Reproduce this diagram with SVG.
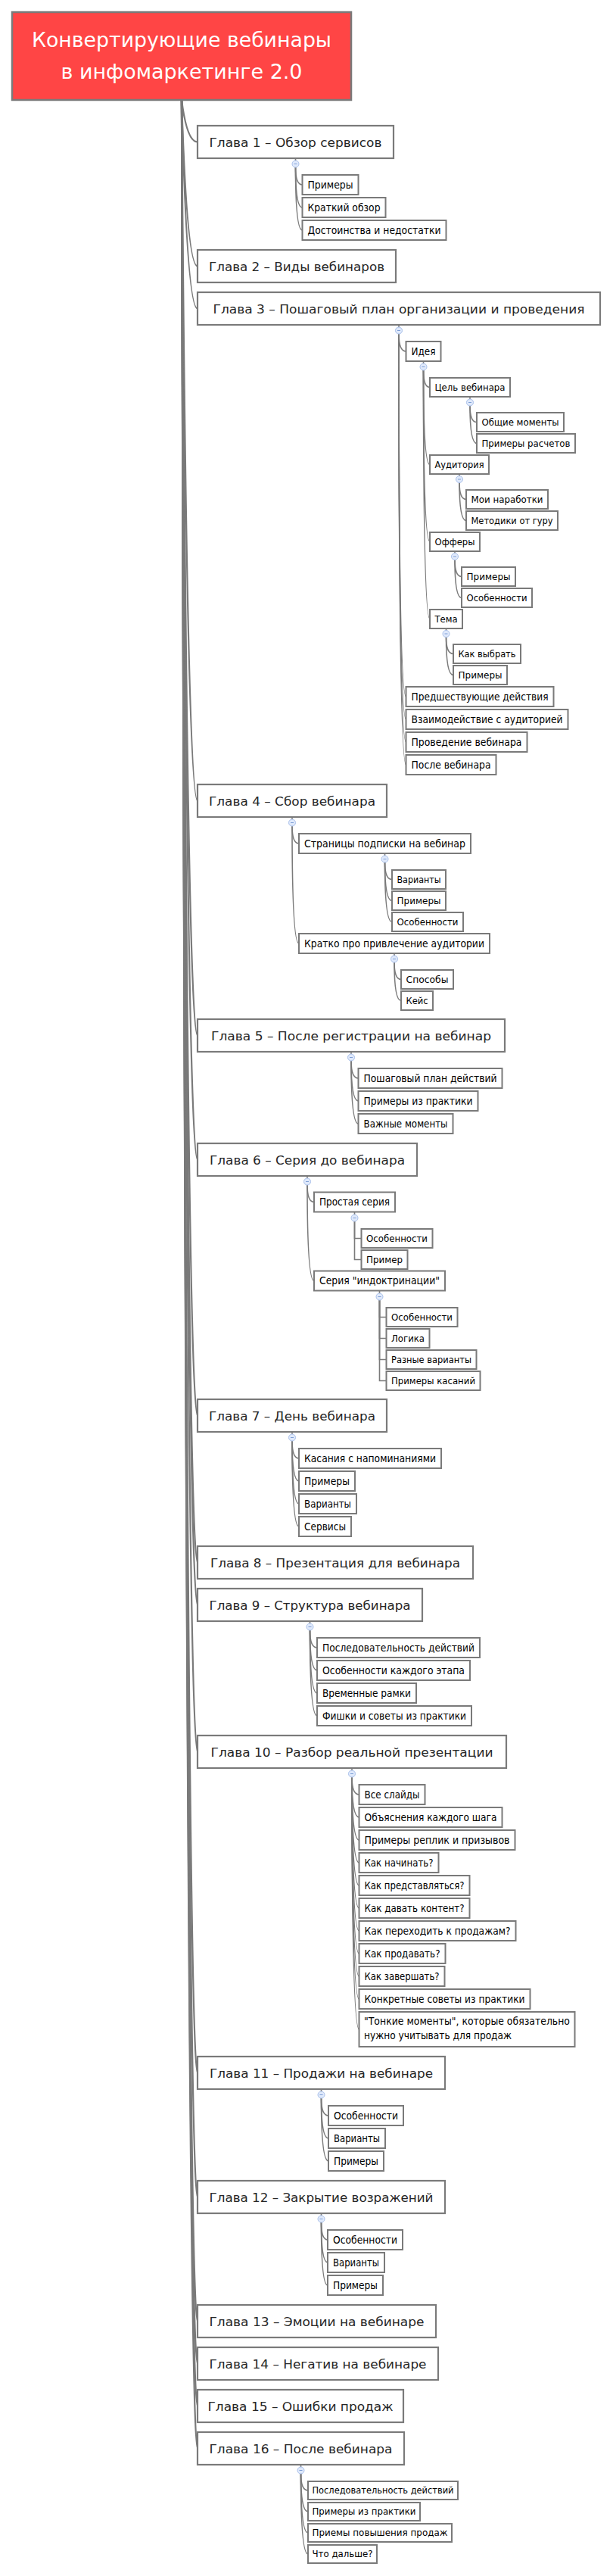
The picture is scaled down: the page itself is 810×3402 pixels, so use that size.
<svg xmlns="http://www.w3.org/2000/svg" width="810" height="3402" viewBox="0 0 810 3402">
<style>
text{font-family:"DejaVu Sans","Liberation Sans",sans-serif}
.root rect{fill:#ff4545;stroke:#7a7a7a;stroke-width:2.5}
.root text{fill:#fff;font-size:26px;text-anchor:middle}
.ch rect{fill:#fff;stroke:#7a7a7a;stroke-width:2.2}
.ch text{fill:#262626;font-size:16.5px;text-anchor:middle}
.c rect{fill:#fff;stroke:#7a7a7a;stroke-width:2}
.c text{fill:#000;font-size:13.3px}
.c.s text{font-size:12.5px}
#connectors path{fill:none;stroke:#7a7a7a;stroke-width:1.6}
#connectors path.t{stroke-width:2.2}
.tg circle{fill:#dfe9fb;stroke:#a9c0ea;stroke-width:1}
.tg line{stroke:#7f9fd6;stroke-width:1}
</style>
<rect width="810" height="3402" fill="#fff"/>
<g id="connectors">
<path class="t" d="M240,132 Q247,187.5 261,187.5"/>
<path class="t" d="M240,132 Q247,351.5 261,351.5"/>
<path class="t" d="M240,132 Q247,407.5 261,407.5"/>
<path class="t" d="M240,132 Q247,1057.5 261,1057.5"/>
<path class="t" d="M240,132 Q247,1367.5 261,1367.5"/>
<path class="t" d="M240,132 Q247,1531.5 261,1531.5"/>
<path class="t" d="M240,132 Q247,1869.5 261,1869.5"/>
<path class="t" d="M240,132 Q247,2063.5 261,2063.5"/>
<path class="t" d="M240,132 Q247,2119.5 261,2119.5"/>
<path class="t" d="M240,132 Q247,2313.5 261,2313.5"/>
<path class="t" d="M240,132 Q247,2737.5 261,2737.5"/>
<path class="t" d="M240,132 Q247,2901.5 261,2901.5"/>
<path class="t" d="M240,132 Q247,3065.5 261,3065.5"/>
<path class="t" d="M240,132 Q247,3121.5 261,3121.5"/>
<path class="t" d="M240,132 Q247,3177.5 261,3177.5"/>
<path class="t" d="M240,132 Q247,3233.5 261,3233.5"/>
<path d="M390.5,209 V212"/>
<path d="M390.5,221 Q390.5,244 399.5,244"/>
<path d="M390.5,221 Q390.5,274 399.5,274"/>
<path d="M390.5,221 Q390.5,304 399.5,304"/>
<path d="M527,429 V432"/>
<path d="M527,441 Q527,464 536.5,464"/>
<path d="M527,441 Q527,920 536.5,920"/>
<path d="M527,441 Q527,950 536.5,950"/>
<path d="M527,441 Q527,980 536.5,980"/>
<path d="M527,441 Q527,1010 536.5,1010"/>
<path d="M559.5,477 V480"/>
<path d="M559.5,489 Q559.5,511.5 568,511.5"/>
<path d="M559.5,489 Q559.5,613.5 568,613.5"/>
<path d="M559.5,489 Q559.5,715.5 568,715.5"/>
<path d="M559.5,489 Q559.5,817.5 568,817.5"/>
<path d="M621,524 V527"/>
<path d="M621,536 Q621,557.5 630,557.5"/>
<path d="M621,536 Q621,585.5 630,585.5"/>
<path d="M607,626 V629"/>
<path d="M607,637.5 Q607,659.5 616,659.5"/>
<path d="M607,637.5 Q607,687.5 616,687.5"/>
<path d="M601,728 V731"/>
<path d="M601,739.5 Q601,761.5 610,761.5"/>
<path d="M601,739.5 Q601,789.5 610,789.5"/>
<path d="M589.5,830 V833"/>
<path d="M589.5,841.5 Q589.5,863.5 599,863.5"/>
<path d="M589.5,841.5 Q589.5,891.5 599,891.5"/>
<path d="M386,1079 V1082"/>
<path d="M386,1091 Q386,1114 395,1114"/>
<path d="M386,1091 Q386,1246 395,1246"/>
<path d="M508.5,1127 V1130"/>
<path d="M508.5,1139 Q508.5,1161.5 518,1161.5"/>
<path d="M508.5,1139 Q508.5,1189.5 518,1189.5"/>
<path d="M508.5,1139 Q508.5,1217.5 518,1217.5"/>
<path d="M521,1259 V1262"/>
<path d="M521,1271 Q521,1293.5 530,1293.5"/>
<path d="M521,1271 Q521,1321.5 530,1321.5"/>
<path d="M464,1389 V1392"/>
<path d="M464,1401 Q464,1424 473.5,1424"/>
<path d="M464,1401 Q464,1454 473.5,1454"/>
<path d="M464,1401 Q464,1484 473.5,1484"/>
<path d="M406,1553 V1556"/>
<path d="M406,1565 Q406,1587.5 415,1587.5"/>
<path d="M406,1565 Q406,1691.5 415,1691.5"/>
<path d="M468.5,1600.5 V1604"/>
<path d="M468.5,1613 V1635.5 H477.5"/>
<path d="M468.5,1613 V1663.5 H477.5"/>
<path d="M501.5,1704.5 V1708"/>
<path d="M501.5,1717 V1739.5 H510.5"/>
<path d="M501.5,1717 V1767.5 H510.5"/>
<path d="M501.5,1717 V1795.5 H510.5"/>
<path d="M501.5,1717 V1823.5 H510.5"/>
<path d="M386,1891 V1894"/>
<path d="M386,1903 Q386,1926 395,1926"/>
<path d="M386,1903 Q386,1956 395,1956"/>
<path d="M386,1903 Q386,1986 395,1986"/>
<path d="M386,1903 Q386,2016 395,2016"/>
<path d="M409.5,2141 V2144"/>
<path d="M409.5,2153 Q409.5,2176 419,2176"/>
<path d="M409.5,2153 Q409.5,2206 419,2206"/>
<path d="M409.5,2153 Q409.5,2236 419,2236"/>
<path d="M409.5,2153 Q409.5,2266 419,2266"/>
<path d="M465,2335 V2338"/>
<path d="M465,2347 Q465,2370 474.5,2370"/>
<path d="M465,2347 Q465,2400 474.5,2400"/>
<path d="M465,2347 Q465,2430 474.5,2430"/>
<path d="M465,2347 Q465,2460 474.5,2460"/>
<path d="M465,2347 Q465,2490 474.5,2490"/>
<path d="M465,2347 Q465,2520 474.5,2520"/>
<path d="M465,2347 Q465,2550 474.5,2550"/>
<path d="M465,2347 Q465,2580 474.5,2580"/>
<path d="M465,2347 Q465,2610 474.5,2610"/>
<path d="M465,2347 Q465,2640 474.5,2640"/>
<path d="M465,2347 Q465,2680 474.5,2680"/>
<path d="M424.5,2759 V2762"/>
<path d="M424.5,2771 Q424.5,2794 434,2794"/>
<path d="M424.5,2771 Q424.5,2824 434,2824"/>
<path d="M424.5,2771 Q424.5,2854 434,2854"/>
<path d="M424.5,2923 V2926"/>
<path d="M424.5,2935 Q424.5,2958 433,2958"/>
<path d="M424.5,2935 Q424.5,2988 433,2988"/>
<path d="M424.5,2935 Q424.5,3018 433,3018"/>
<path d="M397.5,3255 V3258"/>
<path d="M397.5,3267 Q397.5,3289 407,3289"/>
<path d="M397.5,3267 Q397.5,3317 407,3317"/>
<path d="M397.5,3267 Q397.5,3345 407,3345"/>
<path d="M397.5,3267 Q397.5,3373 407,3373"/>
</g>
<g id="toggles" class="tg">
<circle cx="390.5" cy="216.5" r="4.5"/><line x1="388.5" y1="216.5" x2="392.5" y2="216.5"/>
<circle cx="527" cy="436.5" r="4.5"/><line x1="525" y1="436.5" x2="529" y2="436.5"/>
<circle cx="559.5" cy="484.5" r="4.5"/><line x1="557.5" y1="484.5" x2="561.5" y2="484.5"/>
<circle cx="621" cy="531.5" r="4.5"/><line x1="619" y1="531.5" x2="623" y2="531.5"/>
<circle cx="607" cy="633" r="4.5"/><line x1="605" y1="633" x2="609" y2="633"/>
<circle cx="601" cy="735" r="4.5"/><line x1="599" y1="735" x2="603" y2="735"/>
<circle cx="589.5" cy="837" r="4.5"/><line x1="587.5" y1="837" x2="591.5" y2="837"/>
<circle cx="386" cy="1086.5" r="4.5"/><line x1="384" y1="1086.5" x2="388" y2="1086.5"/>
<circle cx="508.5" cy="1134.5" r="4.5"/><line x1="506.5" y1="1134.5" x2="510.5" y2="1134.5"/>
<circle cx="521" cy="1266.5" r="4.5"/><line x1="519" y1="1266.5" x2="523" y2="1266.5"/>
<circle cx="464" cy="1396.5" r="4.5"/><line x1="462" y1="1396.5" x2="466" y2="1396.5"/>
<circle cx="406" cy="1560.5" r="4.5"/><line x1="404" y1="1560.5" x2="408" y2="1560.5"/>
<circle cx="468.5" cy="1608.5" r="4.5"/><line x1="466.5" y1="1608.5" x2="470.5" y2="1608.5"/>
<circle cx="501.5" cy="1712.5" r="4.5"/><line x1="499.5" y1="1712.5" x2="503.5" y2="1712.5"/>
<circle cx="386" cy="1898.5" r="4.5"/><line x1="384" y1="1898.5" x2="388" y2="1898.5"/>
<circle cx="409.5" cy="2148.5" r="4.5"/><line x1="407.5" y1="2148.5" x2="411.5" y2="2148.5"/>
<circle cx="465" cy="2342.5" r="4.5"/><line x1="463" y1="2342.5" x2="467" y2="2342.5"/>
<circle cx="424.5" cy="2766.5" r="4.5"/><line x1="422.5" y1="2766.5" x2="426.5" y2="2766.5"/>
<circle cx="424.5" cy="2930.5" r="4.5"/><line x1="422.5" y1="2930.5" x2="426.5" y2="2930.5"/>
<circle cx="397.5" cy="3262.5" r="4.5"/><line x1="395.5" y1="3262.5" x2="399.5" y2="3262.5"/>
</g>
<g id="root" class="root">
<rect x="16" y="16" width="448" height="116"/>
<text x="240" y="62" textLength="396" lengthAdjust="spacingAndGlyphs">Конвертирующие вебинары</text>
<text x="240" y="103.5" textLength="319" lengthAdjust="spacingAndGlyphs">в инфомаркетинге 2.0</text>
</g>
<g id="ch1" class="ch"><rect x="261" y="166" width="259" height="43"/><text x="390.5" y="193.5" textLength="228" lengthAdjust="spacingAndGlyphs">Глава 1 – Обзор сервисов</text></g>
<g id="ch1-1" class="c"><rect x="399.5" y="231" width="74" height="26"/><text x="406.5" y="248.5" textLength="60" lengthAdjust="spacingAndGlyphs">Примеры</text></g>
<g id="ch1-2" class="c"><rect x="399.5" y="261" width="110" height="26"/><text x="406.5" y="278.5" textLength="96" lengthAdjust="spacingAndGlyphs">Краткий обзор</text></g>
<g id="ch1-3" class="c"><rect x="399.5" y="291" width="190" height="26"/><text x="406.5" y="308.5" textLength="176" lengthAdjust="spacingAndGlyphs">Достоинства и недостатки</text></g>
<g id="ch2" class="ch"><rect x="261" y="330" width="262" height="43"/><text x="392" y="357.5" textLength="232" lengthAdjust="spacingAndGlyphs">Глава 2 – Виды вебинаров</text></g>
<g id="ch3" class="ch"><rect x="261" y="386" width="532" height="43"/><text x="527" y="413.5" textLength="491" lengthAdjust="spacingAndGlyphs">Глава 3 – Пошаговый план организации и проведения</text></g>
<g id="ch3-1" class="c"><rect x="536.5" y="451" width="46" height="26"/><text x="543.5" y="468.5" textLength="32" lengthAdjust="spacingAndGlyphs">Идея</text></g>
<g id="ch3-1-1" class="c s"><rect x="568" y="499" width="106" height="25"/><text x="574.5" y="515.7" textLength="93" lengthAdjust="spacingAndGlyphs">Цель вебинара</text></g>
<g id="ch3-1-1-1" class="c s"><rect x="630" y="545" width="115" height="25"/><text x="636.5" y="561.7" textLength="102" lengthAdjust="spacingAndGlyphs">Общие моменты</text></g>
<g id="ch3-1-1-2" class="c s"><rect x="630" y="573" width="130" height="25"/><text x="636.5" y="589.7" textLength="117" lengthAdjust="spacingAndGlyphs">Примеры расчетов</text></g>
<g id="ch3-1-2" class="c s"><rect x="568" y="601" width="78" height="25"/><text x="574.5" y="617.7" textLength="65" lengthAdjust="spacingAndGlyphs">Аудитория</text></g>
<g id="ch3-1-2-1" class="c s"><rect x="616" y="647" width="108" height="25"/><text x="622.5" y="663.7" textLength="95" lengthAdjust="spacingAndGlyphs">Мои наработки</text></g>
<g id="ch3-1-2-2" class="c s"><rect x="616" y="675" width="121" height="25"/><text x="622.5" y="691.7" textLength="108" lengthAdjust="spacingAndGlyphs">Методики от гуру</text></g>
<g id="ch3-1-3" class="c s"><rect x="568" y="703" width="66" height="25"/><text x="574.5" y="719.7" textLength="53" lengthAdjust="spacingAndGlyphs">Офферы</text></g>
<g id="ch3-1-3-1" class="c s"><rect x="610" y="749" width="71" height="25"/><text x="616.5" y="765.7" textLength="58" lengthAdjust="spacingAndGlyphs">Примеры</text></g>
<g id="ch3-1-3-2" class="c s"><rect x="610" y="777" width="93" height="25"/><text x="616.5" y="793.7" textLength="80" lengthAdjust="spacingAndGlyphs">Особенности</text></g>
<g id="ch3-1-4" class="c s"><rect x="568" y="805" width="43" height="25"/><text x="574.5" y="821.7" textLength="30" lengthAdjust="spacingAndGlyphs">Тема</text></g>
<g id="ch3-1-4-1" class="c s"><rect x="599" y="851" width="89" height="25"/><text x="605.5" y="867.7" textLength="76" lengthAdjust="spacingAndGlyphs">Как выбрать</text></g>
<g id="ch3-1-4-2" class="c s"><rect x="599" y="879" width="71" height="25"/><text x="605.5" y="895.7" textLength="58" lengthAdjust="spacingAndGlyphs">Примеры</text></g>
<g id="ch3-2" class="c"><rect x="536.5" y="907" width="195" height="26"/><text x="543.5" y="924.5" textLength="181" lengthAdjust="spacingAndGlyphs">Предшествующие действия</text></g>
<g id="ch3-3" class="c"><rect x="536.5" y="937" width="214" height="26"/><text x="543.5" y="954.5" textLength="200" lengthAdjust="spacingAndGlyphs">Взаимодействие с аудиторией</text></g>
<g id="ch3-4" class="c"><rect x="536.5" y="967" width="160" height="26"/><text x="543.5" y="984.5" textLength="146" lengthAdjust="spacingAndGlyphs">Проведение вебинара</text></g>
<g id="ch3-5" class="c"><rect x="536.5" y="997" width="119" height="26"/><text x="543.5" y="1014.5" textLength="105" lengthAdjust="spacingAndGlyphs">После вебинара</text></g>
<g id="ch4" class="ch"><rect x="261" y="1036" width="250" height="43"/><text x="386" y="1063.5" textLength="220" lengthAdjust="spacingAndGlyphs">Глава 4 – Сбор вебинара</text></g>
<g id="ch4-1" class="c"><rect x="395" y="1101" width="227" height="26"/><text x="402" y="1118.5" textLength="213" lengthAdjust="spacingAndGlyphs">Страницы подписки на вебинар</text></g>
<g id="ch4-1-1" class="c s"><rect x="518" y="1149" width="71" height="25"/><text x="524.5" y="1165.7" textLength="58" lengthAdjust="spacingAndGlyphs">Варианты</text></g>
<g id="ch4-1-2" class="c s"><rect x="518" y="1177" width="71" height="25"/><text x="524.5" y="1193.7" textLength="58" lengthAdjust="spacingAndGlyphs">Примеры</text></g>
<g id="ch4-1-3" class="c s"><rect x="518" y="1205" width="94" height="25"/><text x="524.5" y="1221.7" textLength="81" lengthAdjust="spacingAndGlyphs">Особенности</text></g>
<g id="ch4-2" class="c"><rect x="395" y="1233" width="252" height="26"/><text x="402" y="1250.5" textLength="238" lengthAdjust="spacingAndGlyphs">Кратко про привлечение аудитории</text></g>
<g id="ch4-2-1" class="c s"><rect x="530" y="1281" width="69" height="25"/><text x="536.5" y="1297.7" textLength="56" lengthAdjust="spacingAndGlyphs">Способы</text></g>
<g id="ch4-2-2" class="c s"><rect x="530" y="1309" width="42" height="25"/><text x="536.5" y="1325.7" textLength="29" lengthAdjust="spacingAndGlyphs">Кейс</text></g>
<g id="ch5" class="ch"><rect x="261" y="1346" width="406" height="43"/><text x="464" y="1373.5" textLength="370" lengthAdjust="spacingAndGlyphs">Глава 5 – После регистрации на вебинар</text></g>
<g id="ch5-1" class="c"><rect x="473.5" y="1411" width="190" height="26"/><text x="480.5" y="1428.5" textLength="176" lengthAdjust="spacingAndGlyphs">Пошаговый план действий</text></g>
<g id="ch5-2" class="c"><rect x="473.5" y="1441" width="158" height="26"/><text x="480.5" y="1458.5" textLength="144" lengthAdjust="spacingAndGlyphs">Примеры из практики</text></g>
<g id="ch5-3" class="c"><rect x="473.5" y="1471" width="125" height="26"/><text x="480.5" y="1488.5" textLength="111" lengthAdjust="spacingAndGlyphs">Важные моменты</text></g>
<g id="ch6" class="ch"><rect x="261" y="1510" width="290" height="43"/><text x="406" y="1537.5" textLength="258" lengthAdjust="spacingAndGlyphs">Глава 6 – Серия до вебинара</text></g>
<g id="ch6-1" class="c"><rect x="415" y="1574.5" width="107" height="26"/><text x="422" y="1592" textLength="93" lengthAdjust="spacingAndGlyphs">Простая серия</text></g>
<g id="ch6-1-1" class="c s"><rect x="477.5" y="1623" width="94" height="25"/><text x="484" y="1639.7" textLength="81" lengthAdjust="spacingAndGlyphs">Особенности</text></g>
<g id="ch6-1-2" class="c s"><rect x="477.5" y="1651" width="61" height="25"/><text x="484" y="1667.7" textLength="48" lengthAdjust="spacingAndGlyphs">Пример</text></g>
<g id="ch6-2" class="c"><rect x="415" y="1678.5" width="173" height="26"/><text x="422" y="1696" textLength="159" lengthAdjust="spacingAndGlyphs">Серия "индоктринации"</text></g>
<g id="ch6-2-1" class="c s"><rect x="510.5" y="1727" width="94" height="25"/><text x="517" y="1743.7" textLength="81" lengthAdjust="spacingAndGlyphs">Особенности</text></g>
<g id="ch6-2-2" class="c s"><rect x="510.5" y="1755" width="57" height="25"/><text x="517" y="1771.7" textLength="44" lengthAdjust="spacingAndGlyphs">Логика</text></g>
<g id="ch6-2-3" class="c s"><rect x="510.5" y="1783" width="119" height="25"/><text x="517" y="1799.7" textLength="106" lengthAdjust="spacingAndGlyphs">Разные варианты</text></g>
<g id="ch6-2-4" class="c s"><rect x="510.5" y="1811" width="124" height="25"/><text x="517" y="1827.7" textLength="111" lengthAdjust="spacingAndGlyphs">Примеры касаний</text></g>
<g id="ch7" class="ch"><rect x="261" y="1848" width="250" height="43"/><text x="386" y="1875.5" textLength="220" lengthAdjust="spacingAndGlyphs">Глава 7 – День вебинара</text></g>
<g id="ch7-1" class="c"><rect x="395" y="1913" width="188" height="26"/><text x="402" y="1930.5" textLength="174" lengthAdjust="spacingAndGlyphs">Касания с напоминаниями</text></g>
<g id="ch7-2" class="c"><rect x="395" y="1943" width="74" height="26"/><text x="402" y="1960.5" textLength="60" lengthAdjust="spacingAndGlyphs">Примеры</text></g>
<g id="ch7-3" class="c"><rect x="395" y="1973" width="76" height="26"/><text x="402" y="1990.5" textLength="62" lengthAdjust="spacingAndGlyphs">Варианты</text></g>
<g id="ch7-4" class="c"><rect x="395" y="2003" width="69" height="26"/><text x="402" y="2020.5" textLength="55" lengthAdjust="spacingAndGlyphs">Сервисы</text></g>
<g id="ch8" class="ch"><rect x="261" y="2042" width="364" height="43"/><text x="443" y="2069.5" textLength="330" lengthAdjust="spacingAndGlyphs">Глава 8 – Презентация для вебинара</text></g>
<g id="ch9" class="ch"><rect x="261" y="2098" width="297" height="43"/><text x="409.5" y="2125.5" textLength="266" lengthAdjust="spacingAndGlyphs">Глава 9 – Структура вебинара</text></g>
<g id="ch9-1" class="c"><rect x="419" y="2163" width="215" height="26"/><text x="426" y="2180.5" textLength="201" lengthAdjust="spacingAndGlyphs">Последовательность действий</text></g>
<g id="ch9-2" class="c"><rect x="419" y="2193" width="202" height="26"/><text x="426" y="2210.5" textLength="188" lengthAdjust="spacingAndGlyphs">Особенности каждого этапа</text></g>
<g id="ch9-3" class="c"><rect x="419" y="2223" width="131" height="26"/><text x="426" y="2240.5" textLength="117" lengthAdjust="spacingAndGlyphs">Временные рамки</text></g>
<g id="ch9-4" class="c"><rect x="419" y="2253" width="204" height="26"/><text x="426" y="2270.5" textLength="190" lengthAdjust="spacingAndGlyphs">Фишки и советы из практики</text></g>
<g id="ch10" class="ch"><rect x="261" y="2292" width="408" height="43"/><text x="465" y="2319.5" textLength="373" lengthAdjust="spacingAndGlyphs">Глава 10 – Разбор реальной презентации</text></g>
<g id="ch10-1" class="c"><rect x="474.5" y="2357" width="87" height="26"/><text x="481.5" y="2374.5" textLength="73" lengthAdjust="spacingAndGlyphs">Все слайды</text></g>
<g id="ch10-2" class="c"><rect x="474.5" y="2387" width="189" height="26"/><text x="481.5" y="2404.5" textLength="175" lengthAdjust="spacingAndGlyphs">Объяснения каждого шага</text></g>
<g id="ch10-3" class="c"><rect x="474.5" y="2417" width="206" height="26"/><text x="481.5" y="2434.5" textLength="192" lengthAdjust="spacingAndGlyphs">Примеры реплик и призывов</text></g>
<g id="ch10-4" class="c"><rect x="474.5" y="2447" width="105" height="26"/><text x="481.5" y="2464.5" textLength="91" lengthAdjust="spacingAndGlyphs">Как начинать?</text></g>
<g id="ch10-5" class="c"><rect x="474.5" y="2477" width="146" height="26"/><text x="481.5" y="2494.5" textLength="132" lengthAdjust="spacingAndGlyphs">Как представляться?</text></g>
<g id="ch10-6" class="c"><rect x="474.5" y="2507" width="146" height="26"/><text x="481.5" y="2524.5" textLength="132" lengthAdjust="spacingAndGlyphs">Как давать контент?</text></g>
<g id="ch10-7" class="c"><rect x="474.5" y="2537" width="207" height="26"/><text x="481.5" y="2554.5" textLength="193" lengthAdjust="spacingAndGlyphs">Как переходить к продажам?</text></g>
<g id="ch10-8" class="c"><rect x="474.5" y="2567" width="114" height="26"/><text x="481.5" y="2584.5" textLength="100" lengthAdjust="spacingAndGlyphs">Как продавать?</text></g>
<g id="ch10-9" class="c"><rect x="474.5" y="2597" width="113" height="26"/><text x="481.5" y="2614.5" textLength="99" lengthAdjust="spacingAndGlyphs">Как завершать?</text></g>
<g id="ch10-10" class="c"><rect x="474.5" y="2627" width="226" height="26"/><text x="481.5" y="2644.5" textLength="212" lengthAdjust="spacingAndGlyphs">Конкретные советы из практики</text></g>
<g id="ch10-11" class="c"><rect x="474.5" y="2657" width="285" height="46"/><text x="481" y="2674" textLength="272" lengthAdjust="spacingAndGlyphs">"Тонкие моменты", которые обязательно</text><text x="481" y="2692.5" textLength="195" lengthAdjust="spacingAndGlyphs">нужно учитывать для продаж</text></g>
<g id="ch11" class="ch"><rect x="261" y="2716" width="327" height="43"/><text x="424.5" y="2743.5" textLength="295" lengthAdjust="spacingAndGlyphs">Глава 11 – Продажи на вебинаре</text></g>
<g id="ch11-1" class="c"><rect x="434" y="2781" width="99" height="26"/><text x="441" y="2798.5" textLength="85" lengthAdjust="spacingAndGlyphs">Особенности</text></g>
<g id="ch11-2" class="c"><rect x="434" y="2811" width="75" height="26"/><text x="441" y="2828.5" textLength="61" lengthAdjust="spacingAndGlyphs">Варианты</text></g>
<g id="ch11-3" class="c"><rect x="434" y="2841" width="73" height="26"/><text x="441" y="2858.5" textLength="59" lengthAdjust="spacingAndGlyphs">Примеры</text></g>
<g id="ch12" class="ch"><rect x="261" y="2880" width="327" height="43"/><text x="424.5" y="2907.5" textLength="296" lengthAdjust="spacingAndGlyphs">Глава 12 – Закрытие возражений</text></g>
<g id="ch12-1" class="c"><rect x="433" y="2945" width="99" height="26"/><text x="440" y="2962.5" textLength="85" lengthAdjust="spacingAndGlyphs">Особенности</text></g>
<g id="ch12-2" class="c"><rect x="433" y="2975" width="75" height="26"/><text x="440" y="2992.5" textLength="61" lengthAdjust="spacingAndGlyphs">Варианты</text></g>
<g id="ch12-3" class="c"><rect x="433" y="3005" width="73" height="26"/><text x="440" y="3022.5" textLength="59" lengthAdjust="spacingAndGlyphs">Примеры</text></g>
<g id="ch13" class="ch"><rect x="261" y="3044" width="315" height="43"/><text x="418.5" y="3071.5" textLength="284" lengthAdjust="spacingAndGlyphs">Глава 13 – Эмоции на вебинаре</text></g>
<g id="ch14" class="ch"><rect x="261" y="3100" width="318" height="43"/><text x="420" y="3127.5" textLength="287" lengthAdjust="spacingAndGlyphs">Глава 14 – Негатив на вебинаре</text></g>
<g id="ch15" class="ch"><rect x="261" y="3156" width="272" height="43"/><text x="397" y="3183.5" textLength="245" lengthAdjust="spacingAndGlyphs">Глава 15 – Ошибки продаж</text></g>
<g id="ch16" class="ch"><rect x="261" y="3212" width="273" height="43"/><text x="397.5" y="3239.5" textLength="242" lengthAdjust="spacingAndGlyphs">Глава 16 – После вебинара</text></g>
<g id="ch16-1" class="c s"><rect x="407" y="3277" width="198" height="24"/><text x="412.5" y="3293.2" textLength="187" lengthAdjust="spacingAndGlyphs">Последовательность действий</text></g>
<g id="ch16-2" class="c s"><rect x="407" y="3305" width="148" height="24"/><text x="412.5" y="3321.2" textLength="137" lengthAdjust="spacingAndGlyphs">Примеры из практики</text></g>
<g id="ch16-3" class="c s"><rect x="407" y="3333" width="190" height="24"/><text x="412.5" y="3349.2" textLength="179" lengthAdjust="spacingAndGlyphs">Приемы повышения продаж</text></g>
<g id="ch16-4" class="c s"><rect x="407" y="3361" width="91" height="24"/><text x="412.5" y="3377.2" textLength="80" lengthAdjust="spacingAndGlyphs">Что дальше?</text></g>
</svg>
